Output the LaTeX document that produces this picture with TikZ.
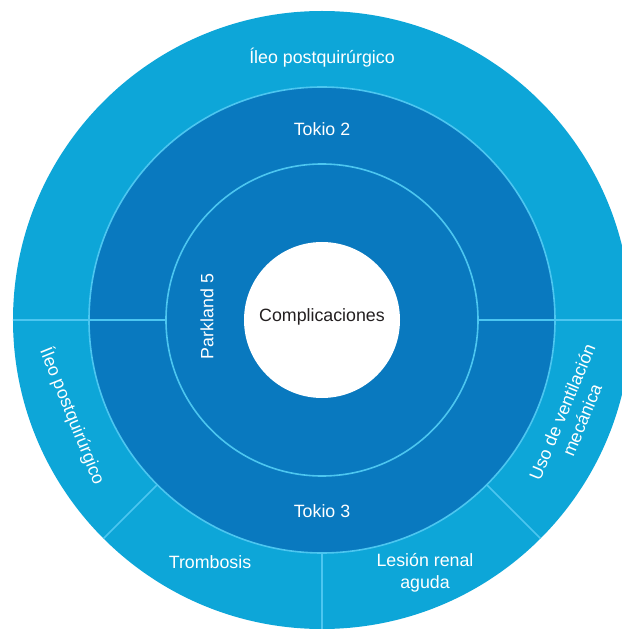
\documentclass[tikz,border=0pt]{standalone}
\usepackage{fontspec}
\setmainfont{Liberation Sans}
\definecolor{outerblue}{HTML}{0DA6D8}
\definecolor{innerblue}{HTML}{0979BF}
\definecolor{sepline}{HTML}{4CC6F0}
\definecolor{centertext}{HTML}{231F20}
\begin{document}
\begin{tikzpicture}[x=1pt,y=1pt,
  lbl/.style={text=white,font=\fontsize{17.8}{21.5}\selectfont,align=center,inner sep=0pt},
  sepl/.style={draw=sepline,line width=1.6pt}]
\useasboundingbox (-322,-309) rectangle (299,320);
% rings
\fill[outerblue] (0,0) circle (309);
\fill[innerblue] (0,0) circle (233);
\fill[white] (0,0) circle (78);
\draw[sepl] (0,0) circle (233);
\draw[sepl] (0,0) circle (156);
% separators
\draw[sepl] (180:309) -- (180:156);
\draw[sepl] (0:156) -- (0:309);
\draw[sepl] (225:233) -- (225:309);
\draw[sepl] (270:233) -- (270:309);
\draw[sepl] (315:233) -- (315:309);
% labels
\node[lbl] (ileotop) at (0,262) {Íleo postquirúrgico};
\node[lbl] (tokio2) at (0,191) {Tokio 2};
\node[lbl] (tokio3) at (0,-191.5) {Tokio 3};
\node[lbl,rotate=90] (parkland) at (-115,3.5) {Parkland 5};
\node[lbl,text=centertext] (center) at (0,3) {Complicaciones};
\node[lbl,rotate=-68] (ileoleft) at (-249.5,-96) {Íleo postquirúrgico};
\node[lbl,rotate=67.5] (ventilacion) at (250,-96) {Uso de ventilación\\mecánica};
\node[lbl] (trombosis) at (-112,-241.7) {Trombosis};
\node[lbl] (lesion) at (103,-253) {Lesión renal\\aguda};
\end{tikzpicture}
\end{document}
